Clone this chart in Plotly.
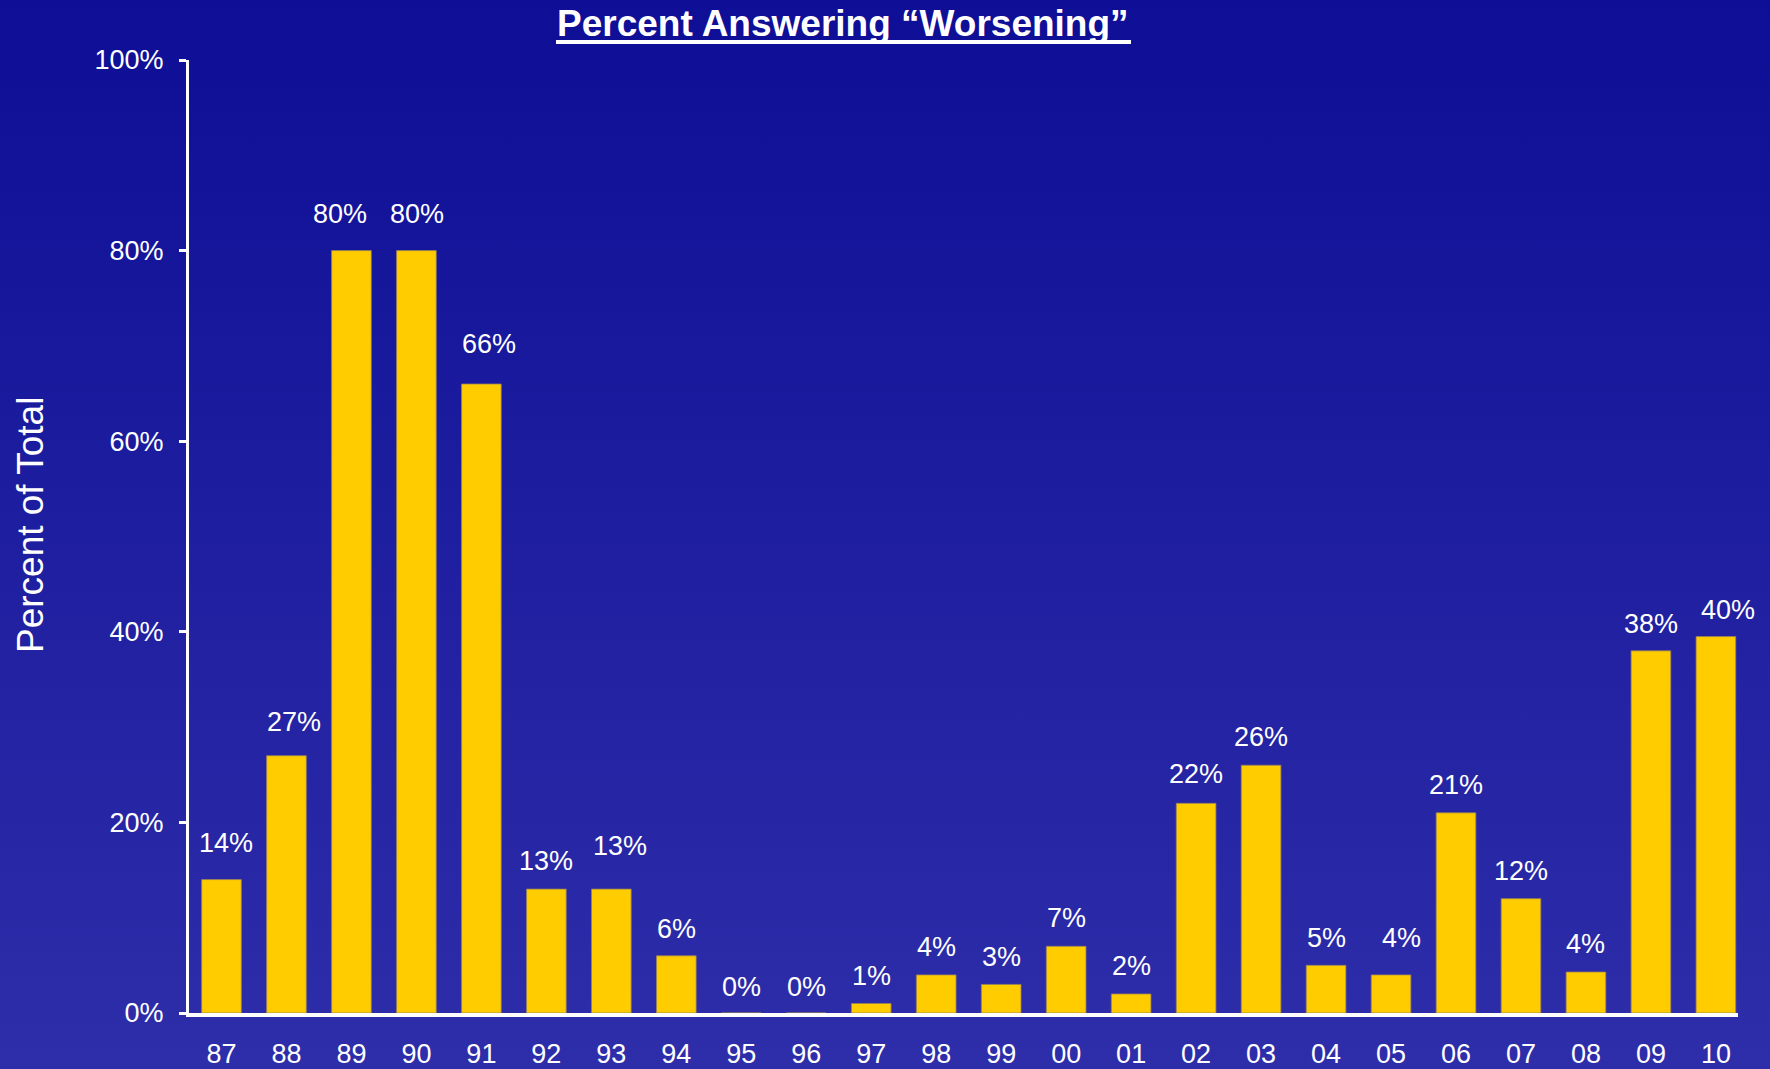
import base64
import plotly.graph_objects as go

# ---- data ----
years = ["87", "88", "89", "90", "91", "92", "93", "94", "95", "96", "97", "98",
         "99", "00", "01", "02", "03", "04", "05", "06", "07", "08", "09", "10"]
pct_worsening = [14, 27, 80, 80, 66, 13, 13, 6, 0, 0, 1, 4,
                 3, 7, 2, 22, 26, 5, 4, 21, 12, 4.3, 38, 39.5]
value_labels = ["14%", "27%", "80%", "80%", "66%", "13%", "13%", "6%", "0%", "0%", "1%", "4%",
                "3%", "7%", "2%", "22%", "26%", "5%", "4%", "21%", "12%", "4%", "38%", "40%"]
y_tick_vals = [0, 20, 40, 60, 80, 100]
y_tick_text = ["0%", "20%", "40%", "60%", "80%", "100%"]

# ---- label styling offsets (pixels) ----
label_dy = [37, 34, 37, 37, 40, 28, 43, 27, 26, 26, 27, 28,
            27, 28, 28, 29, 28, 27, 37, 28, 28, 28, 27, 27]
label_dx = [5, 8, -11, 1, 8, 0, 9, 0, 0, 0, 0, 0,
            0, 0, 0, 0, 0, 0, 10, 0, 0, 0, 0, 12]

W, H = 1770, 1069
ML, MR, MT, MB = 189, 32, 60, 56
PW, PH = W - ML - MR, H - MT - MB

FONT = "Liberation Sans, Arial, sans-serif"

fig = go.Figure()
fig.add_trace(go.Bar(
    x=list(range(len(years))), y=pct_worsening,
    marker=dict(color="#FFCC00", line=dict(color="rgba(150,130,90,0.8)", width=1)),
    width=0.61, hoverinfo="skip",
))

annotations = []
for i, (v, t) in enumerate(zip(pct_worsening, value_labels)):
    annotations.append(dict(x=i, y=v, xref="x", yref="y", text=t, showarrow=False,
                            yanchor="middle", xanchor="center",
                            yshift=label_dy[i], xshift=label_dx[i],
                            font=dict(family=FONT, size=27, color="white")))
# y-axis title
annotations.append(dict(x=(30 - ML) / PW, y=(H - MB - 525) / PH, xref="paper", yref="paper",
                        text="Percent of Total", textangle=-90, showarrow=False,
                        xanchor="center", yanchor="middle",
                        font=dict(family=FONT, size=37, color="white")))
# chart title
annotations.append(dict(x=(843 - ML) / PW, y=1 + (MT - 23) / PH, xref="paper", yref="paper",
                        text="<b>Percent Answering \u201cWorsening\u201d</b>", showarrow=False,
                        xanchor="center", yanchor="middle",
                        font=dict(family=FONT, size=37, color="white")))

# gradient background
svg = ('<svg xmlns="http://www.w3.org/2000/svg" width="100" height="100" preserveAspectRatio="none">'
       '<defs><linearGradient id="g" x1="0" y1="0" x2="0" y2="1">'
       '<stop offset="0" stop-color="#0E0E96"/><stop offset="1" stop-color="#2E2EAA"/>'
       '</linearGradient></defs><rect width="100" height="100" fill="url(#g)"/></svg>')
src = "data:image/svg+xml;base64," + base64.b64encode(svg.encode()).decode()

fig.update_layout(
    width=W, height=H,
    margin=dict(l=ML, r=MR, t=MT, b=MB),
    paper_bgcolor="#1E1EA0", plot_bgcolor="rgba(0,0,0,0)",
    showlegend=False,
    annotations=annotations,
    images=[dict(source=src, xref="paper", yref="paper",
                 x=-ML / PW, y=1 + MT / PH, sizex=W / PW, sizey=H / PH,
                 xanchor="left", yanchor="top", sizing="stretch", layer="below")],
    shapes=[dict(type="line", xref="paper", yref="paper",
                 x0=(556 - ML) / PW, x1=(1131 - ML) / PW,
                 y0=1 + (MT - 42) / PH, y1=1 + (MT - 42) / PH,
                 line=dict(color="white", width=4))],
    xaxis=dict(range=[-0.5, 23.34], tickmode="array", tickvals=list(range(len(years))),
               ticktext=years, showgrid=False, zeroline=False, automargin=False,
               showline=True, linecolor="white", linewidth=4,
               ticks="", ticklabelstandoff=14,
               tickfont=dict(family=FONT, size=27, color="white")),
    yaxis=dict(range=[0, 100], tickmode="array", tickvals=y_tick_vals, ticktext=y_tick_text,
               showgrid=False, zeroline=False, automargin=False,
               showline=True, linecolor="white", linewidth=3,
               ticks="outside", ticklen=7, tickwidth=3, tickcolor="white",
               ticklabelstandoff=10,
               tickfont=dict(family=FONT, size=27, color="white")),
)

fig.write_html("out.html", config={"displayModeBar": False},
               post_script="document.body.style.margin='0';document.body.style.overflow='hidden';")
